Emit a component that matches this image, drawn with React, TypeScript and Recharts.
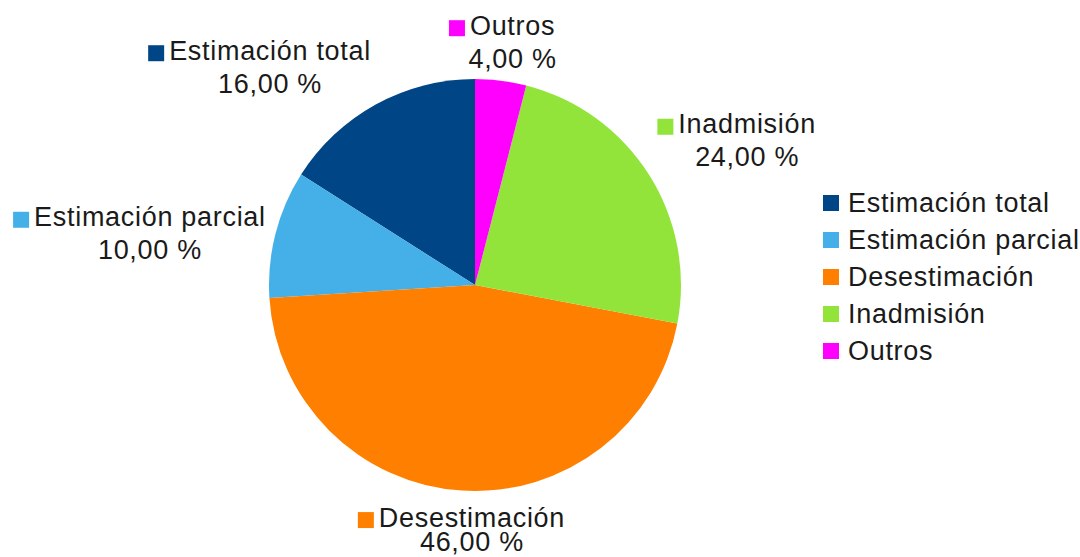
import React from 'react';
import { PieChart, Pie, Cell, Legend } from 'recharts';

const categories = ['Estimación total', 'Estimación parcial', 'Desestimación', 'Inadmisión', 'Outros'];
const shares = [16, 10, 46, 24, 4];
const colors = ['#004586', '#45b0e8', '#ff8000', '#92e43a', '#ff00ff'];

const data = categories.map((name, i) => ({ name, value: shares[i] }));

const W = 1080;
const H = 557;
const FONT = "'Liberation Sans', Arial, sans-serif";
const FONT_SIZE = 27;
const SPACING = 0.7;
const SQ = 16;

let ctx: CanvasRenderingContext2D | null = null;
const textWidth = (s: string) => {
  if (!ctx) ctx = document.createElement('canvas').getContext('2d');
  if (!ctx) return s.length * 14;
  ctx.font = `${FONT_SIZE}px ${FONT}`;
  return ctx.measureText(s).width + SPACING * s.length;
};

const fmt = (p: number) => (p * 100).toFixed(2).replace('.', ',') + ' %';

// label block anchored LibreOffice-style: the side facing the pie touches a point just outside the slice
const renderLabel = (props: any) => {
  const { cx, cy, midAngle, outerRadius, percent, name, index } = props;
  const rad = (midAngle * Math.PI) / 180;
  const c = Math.cos(rad);
  const s = Math.sin(rad);
  const ax = cx + (outerRadius + 10) * c;
  const ay = cy - (outerRadius + 10) * s;

  const nameW = textWidth(name);
  const blockW = SQ + 5 + nameW;
  const blockH = 62;

  let left: number;
  if (Math.abs(c) < 0.38) left = ax - blockW / 2;
  else if (c > 0) left = ax;
  else left = ax - blockW;

  let top: number;
  if (Math.abs(s) < 0.38) top = ay - blockH / 2;
  else if (s > 0) top = ay - blockH;
  else top = ay;

  // squeeze the two lines together when the block would run off the bottom
  let gap = 33;
  if (top + 26 + gap + 6 > H) gap = Math.max(22, H - 6 - top - 26);

  const textX = left + SQ + 5;
  const base1 = top + 26;
  const base2 = base1 + gap;

  return (
    <g key={`lbl-${index}`}>
      <rect x={left} y={base1 - 14.5} width={SQ} height={SQ} fill={colors[index]} />
      <text x={textX} y={base1} fill="#1a1a1a" fontSize={FONT_SIZE} fontFamily={FONT} letterSpacing={SPACING}>
        {name}
      </text>
      <text x={textX + nameW / 2} y={base2} textAnchor="middle" fill="#1a1a1a" fontSize={FONT_SIZE} fontFamily={FONT} letterSpacing={SPACING}>
        {fmt(percent)}
      </text>
    </g>
  );
};

const renderLegend = () => (
  <svg width={265} height={200}>
    {categories.map((name, i) => (
      <g key={`leg-${i}`}>
        <rect x={8} y={15 + i * 37} width={SQ} height={SQ} fill={colors[i]} />
        <text x={33} y={31.5 + i * 37} fill="#1a1a1a" fontSize={FONT_SIZE} fontFamily={FONT} letterSpacing={SPACING}>
          {name}
        </text>
      </g>
    ))}
  </svg>
);

export default function App() {
  return (
    <div style={{ position: 'absolute', left: 0, top: 0, width: W, height: H, background: '#fff' }}>
      <PieChart width={W} height={H} margin={{ top: 0, right: 0, bottom: 0, left: 0 }}>
        <Pie
          data={data}
          dataKey="value"
          nameKey="name"
          cx={475}
          cy={285}
          outerRadius={206}
          startAngle={90}
          endAngle={450}
          stroke="none"
          label={renderLabel}
          labelLine={false}
          isAnimationActive={false}
        >
          {data.map((d, i) => (
            <Cell key={d.name} fill={colors[i]} />
          ))}
        </Pie>
        <Legend
          layout="vertical"
          align="right"
          verticalAlign="middle"
          content={renderLegend}
          wrapperStyle={{ left: 815, top: 180, width: 265, height: 200 }}
        />
      </PieChart>
    </div>
  );
}
